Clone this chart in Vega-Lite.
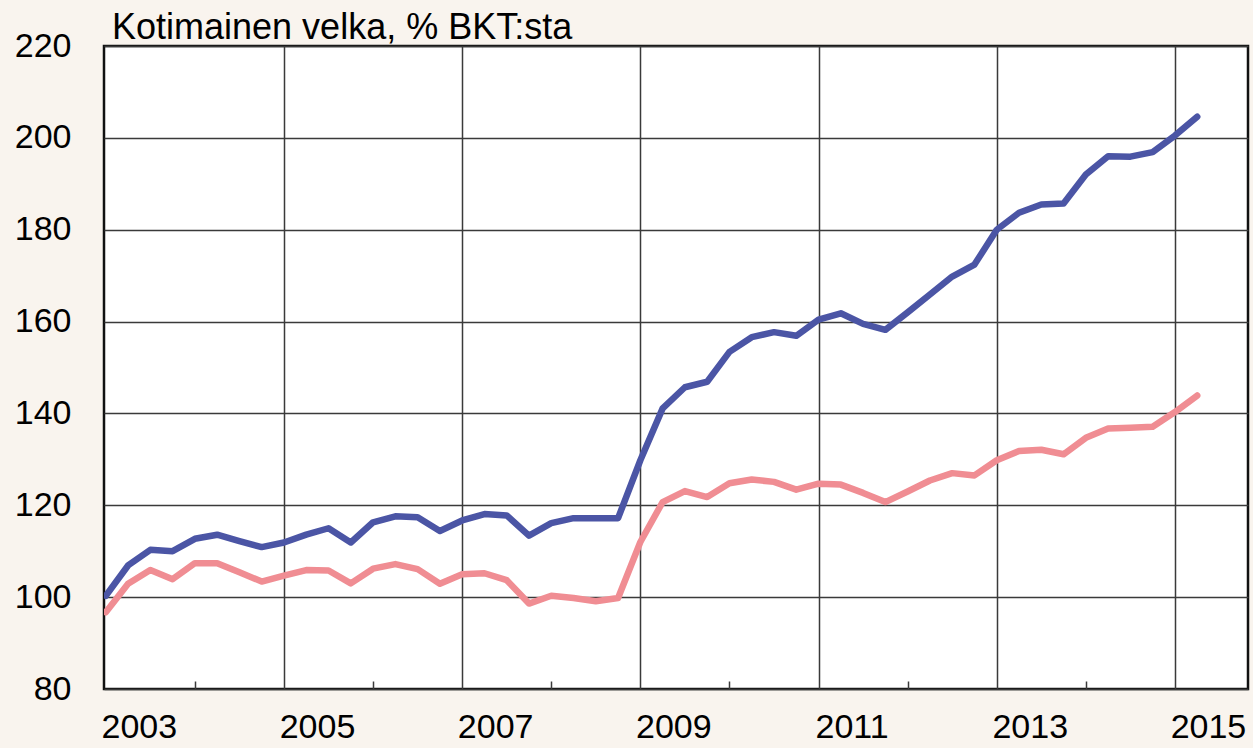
{
  "$schema": "https://vega.github.io/schema/vega-lite/v6.json",
  "width": 1144,
  "height": 643,
  "autosize": {"type": "none"},
  "padding": {"left": 104, "top": 46, "right": 5, "bottom": 59},
  "background": "#F9F4EE",
  "config": {
    "view": {"fill": "white", "stroke": "#111111", "strokeWidth": 2.5},
    "font": "Liberation Sans"
  },
  "title": {
    "text": "Kotimainen  velka, % BKT:sta",
    "anchor": "start",
    "frame": "group",
    "dx": 8,
    "offset": -46,
    "baseline": "alphabetic",
    "fontSize": 36,
    "font": "Liberation Sans",
    "fontWeight": "normal",
    "color": "#000000"
  },
  "datasets": {
    "debt": [
      {"vuosi": 2003.00, "sarja": "A", "arvo": 100.3}, {"vuosi": 2003.00, "sarja": "B", "arvo": 96.7},
      {"vuosi": 2003.25, "sarja": "A", "arvo": 106.9}, {"vuosi": 2003.25, "sarja": "B", "arvo": 102.9},
      {"vuosi": 2003.50, "sarja": "A", "arvo": 110.3}, {"vuosi": 2003.50, "sarja": "B", "arvo": 105.9},
      {"vuosi": 2003.75, "sarja": "A", "arvo": 110.0}, {"vuosi": 2003.75, "sarja": "B", "arvo": 103.9},
      {"vuosi": 2004.00, "sarja": "A", "arvo": 112.7}, {"vuosi": 2004.00, "sarja": "B", "arvo": 107.4},
      {"vuosi": 2004.25, "sarja": "A", "arvo": 113.6}, {"vuosi": 2004.25, "sarja": "B", "arvo": 107.4},
      {"vuosi": 2004.50, "sarja": "A", "arvo": 112.2}, {"vuosi": 2004.50, "sarja": "B", "arvo": 105.4},
      {"vuosi": 2004.75, "sarja": "A", "arvo": 110.9}, {"vuosi": 2004.75, "sarja": "B", "arvo": 103.4},
      {"vuosi": 2005.00, "sarja": "A", "arvo": 111.9}, {"vuosi": 2005.00, "sarja": "B", "arvo": 104.7},
      {"vuosi": 2005.25, "sarja": "A", "arvo": 113.6}, {"vuosi": 2005.25, "sarja": "B", "arvo": 105.9},
      {"vuosi": 2005.50, "sarja": "A", "arvo": 115.0}, {"vuosi": 2005.50, "sarja": "B", "arvo": 105.8},
      {"vuosi": 2005.75, "sarja": "A", "arvo": 111.9}, {"vuosi": 2005.75, "sarja": "B", "arvo": 103.0},
      {"vuosi": 2006.00, "sarja": "A", "arvo": 116.3}, {"vuosi": 2006.00, "sarja": "B", "arvo": 106.2},
      {"vuosi": 2006.25, "sarja": "A", "arvo": 117.6}, {"vuosi": 2006.25, "sarja": "B", "arvo": 107.2},
      {"vuosi": 2006.50, "sarja": "A", "arvo": 117.4}, {"vuosi": 2006.50, "sarja": "B", "arvo": 106.1},
      {"vuosi": 2006.75, "sarja": "A", "arvo": 114.4}, {"vuosi": 2006.75, "sarja": "B", "arvo": 102.9},
      {"vuosi": 2007.00, "sarja": "A", "arvo": 116.7}, {"vuosi": 2007.00, "sarja": "B", "arvo": 105.0},
      {"vuosi": 2007.25, "sarja": "A", "arvo": 118.1}, {"vuosi": 2007.25, "sarja": "B", "arvo": 105.2},
      {"vuosi": 2007.50, "sarja": "A", "arvo": 117.8}, {"vuosi": 2007.50, "sarja": "B", "arvo": 103.7},
      {"vuosi": 2007.75, "sarja": "A", "arvo": 113.4}, {"vuosi": 2007.75, "sarja": "B", "arvo": 98.6},
      {"vuosi": 2008.00, "sarja": "A", "arvo": 116.1}, {"vuosi": 2008.00, "sarja": "B", "arvo": 100.3},
      {"vuosi": 2008.25, "sarja": "A", "arvo": 117.2}, {"vuosi": 2008.25, "sarja": "B", "arvo": 99.8},
      {"vuosi": 2008.50, "sarja": "A", "arvo": 117.2}, {"vuosi": 2008.50, "sarja": "B", "arvo": 99.1},
      {"vuosi": 2008.75, "sarja": "A", "arvo": 117.2}, {"vuosi": 2008.75, "sarja": "B", "arvo": 99.8},
      {"vuosi": 2009.00, "sarja": "A", "arvo": 129.8}, {"vuosi": 2009.00, "sarja": "B", "arvo": 112.0},
      {"vuosi": 2009.25, "sarja": "A", "arvo": 141.1}, {"vuosi": 2009.25, "sarja": "B", "arvo": 120.7},
      {"vuosi": 2009.50, "sarja": "A", "arvo": 145.7}, {"vuosi": 2009.50, "sarja": "B", "arvo": 123.1},
      {"vuosi": 2009.75, "sarja": "A", "arvo": 146.9}, {"vuosi": 2009.75, "sarja": "B", "arvo": 121.8},
      {"vuosi": 2010.00, "sarja": "A", "arvo": 153.4}, {"vuosi": 2010.00, "sarja": "B", "arvo": 124.8},
      {"vuosi": 2010.25, "sarja": "A", "arvo": 156.6}, {"vuosi": 2010.25, "sarja": "B", "arvo": 125.6},
      {"vuosi": 2010.50, "sarja": "A", "arvo": 157.7}, {"vuosi": 2010.50, "sarja": "B", "arvo": 125.1},
      {"vuosi": 2010.75, "sarja": "A", "arvo": 156.9}, {"vuosi": 2010.75, "sarja": "B", "arvo": 123.4},
      {"vuosi": 2011.00, "sarja": "A", "arvo": 160.4}, {"vuosi": 2011.00, "sarja": "B", "arvo": 124.7},
      {"vuosi": 2011.25, "sarja": "A", "arvo": 161.8}, {"vuosi": 2011.25, "sarja": "B", "arvo": 124.5},
      {"vuosi": 2011.50, "sarja": "A", "arvo": 159.5}, {"vuosi": 2011.50, "sarja": "B", "arvo": 122.7},
      {"vuosi": 2011.75, "sarja": "A", "arvo": 158.2}, {"vuosi": 2011.75, "sarja": "B", "arvo": 120.7},
      {"vuosi": 2012.00, "sarja": "A", "arvo": 162.0}, {"vuosi": 2012.00, "sarja": "B", "arvo": 123.0},
      {"vuosi": 2012.25, "sarja": "A", "arvo": 165.9}, {"vuosi": 2012.25, "sarja": "B", "arvo": 125.4},
      {"vuosi": 2012.50, "sarja": "A", "arvo": 169.8}, {"vuosi": 2012.50, "sarja": "B", "arvo": 127.0},
      {"vuosi": 2012.75, "sarja": "A", "arvo": 172.4}, {"vuosi": 2012.75, "sarja": "B", "arvo": 126.5},
      {"vuosi": 2013.00, "sarja": "A", "arvo": 180.0}, {"vuosi": 2013.00, "sarja": "B", "arvo": 129.8},
      {"vuosi": 2013.25, "sarja": "A", "arvo": 183.7}, {"vuosi": 2013.25, "sarja": "B", "arvo": 131.8},
      {"vuosi": 2013.50, "sarja": "A", "arvo": 185.5}, {"vuosi": 2013.50, "sarja": "B", "arvo": 132.1},
      {"vuosi": 2013.75, "sarja": "A", "arvo": 185.7}, {"vuosi": 2013.75, "sarja": "B", "arvo": 131.1},
      {"vuosi": 2014.00, "sarja": "A", "arvo": 192.0}, {"vuosi": 2014.00, "sarja": "B", "arvo": 134.7},
      {"vuosi": 2014.25, "sarja": "A", "arvo": 196.0}, {"vuosi": 2014.25, "sarja": "B", "arvo": 136.7},
      {"vuosi": 2014.50, "sarja": "A", "arvo": 195.9}, {"vuosi": 2014.50, "sarja": "B", "arvo": 136.9},
      {"vuosi": 2014.75, "sarja": "A", "arvo": 196.9}, {"vuosi": 2014.75, "sarja": "B", "arvo": 137.1},
      {"vuosi": 2015.00, "sarja": "A", "arvo": 200.5}, {"vuosi": 2015.00, "sarja": "B", "arvo": 140.3},
      {"vuosi": 2015.25, "sarja": "A", "arvo": 204.6}, {"vuosi": 2015.25, "sarja": "B", "arvo": 143.9}
    ]
  },
  "data": {"name": "debt"},
  "mark": {"type": "line", "strokeWidth": 6.5, "strokeCap": "round", "strokeJoin": "round", "clip": true},
  "encoding": {
    "x": {
      "field": "vuosi",
      "type": "quantitative",
      "scale": {"domain": [2002.98, 2015.82], "nice": false, "zero": false},
      "axis": {
        "title": null,
        "values": [2003, 2004, 2005, 2006, 2007, 2008, 2009, 2010, 2011, 2012, 2013, 2014, 2015],
        "domain": false,
        "grid": true,
        "gridColor": "#3a3a3a",
        "gridWidth": 1.5,
        "gridOpacity": {"condition": {"test": "datum.value % 2 == 1 && datum.value > 2003", "value": 1}, "value": 0},
        "ticks": true,
        "tickColor": "#3a3a3a",
        "tickWidth": 1.5,
        "tickSize": -8,
        "tickOpacity": {"condition": {"test": "datum.value % 2 == 0", "value": 1}, "value": 0},
        "labelExpr": "datum.value % 2 == 1 ? '' + datum.value : ''",
        "labelOffset": 33,
        "labelFontSize": 34,
        "labelColor": "#000000",
        "labelPadding": 56,
        "labelBaseline": "alphabetic",
        "labelFlush": false,
        "labelOverlap": false,
        "labelBound": false
      }
    },
    "y": {
      "field": "arvo",
      "type": "quantitative",
      "scale": {"domain": [80, 220], "nice": false, "zero": false},
      "axis": {
        "title": null,
        "values": [80, 100, 120, 140, 160, 180, 200, 220],
        "domain": false,
        "ticks": false,
        "grid": true,
        "gridColor": "#3a3a3a",
        "gridWidth": 1.5,
        "labelFontSize": 34,
        "labelColor": "#000000",
        "labelPadding": 33,
        "labelOverlap": false,
        "labelBound": false,
        "labelFlush": false
      }
    },
    "color": {
      "field": "sarja",
      "type": "nominal",
      "scale": {"domain": ["A", "B"], "range": ["#4B55A5", "#F08D93"]},
      "legend": null
    }
  }
}
